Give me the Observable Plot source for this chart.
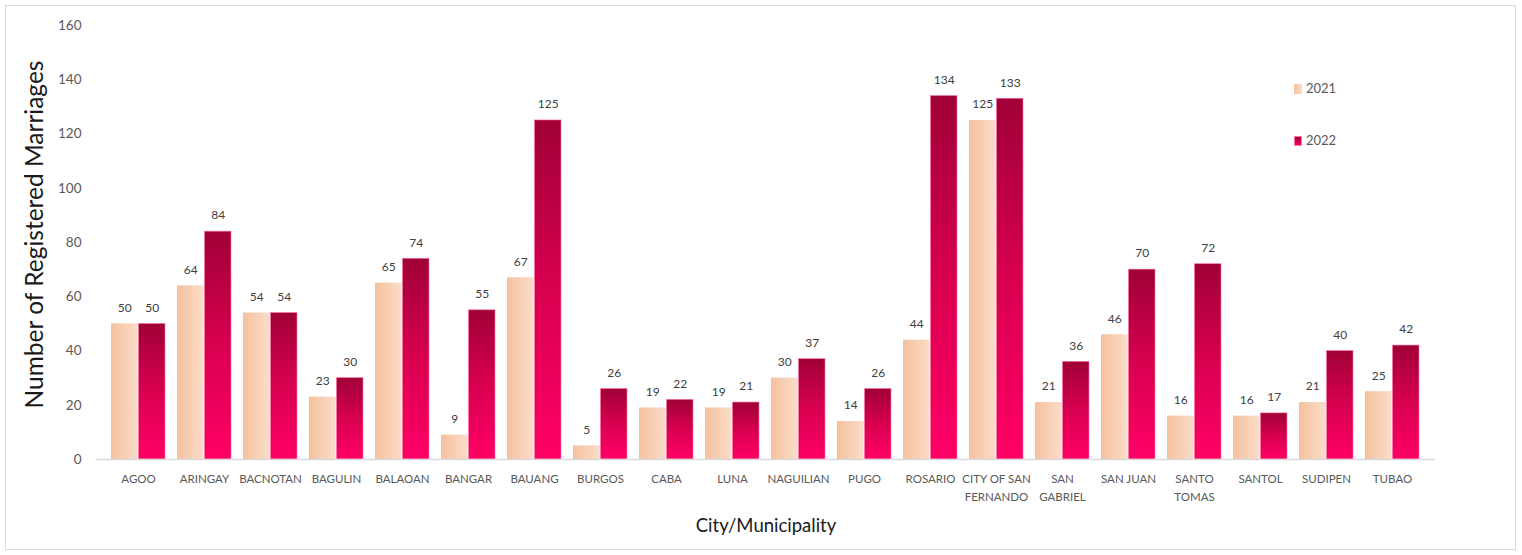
<!DOCTYPE html>
<html><head><meta charset="utf-8">
<script src="https://cdn.jsdelivr.net/npm/d3@7"></script>
<script src="https://cdn.jsdelivr.net/npm/@observablehq/plot@0.6"></script>
<style>
body{margin:0;background:#fff;font-family:Lato,sans-serif}
#wrap{position:relative;width:1522px;height:555px;overflow:hidden}
#border{position:absolute;left:5px;top:5px;width:1511px;height:545px;border:1px solid #d9d9d9;box-sizing:border-box;pointer-events:none}
.leg{position:absolute;left:1294px;font:13px Lato,sans-serif;color:#595959;display:flex;align-items:center;line-height:1}
.sw{width:8px;height:10px;margin-right:4px;box-sizing:border-box}
</style></head>
<body><div id="wrap"><div id="border"></div></div>
<script>
const cities = ["AGOO","ARINGAY","BACNOTAN","BAGULIN","BALAOAN","BANGAR","BAUANG","BURGOS","CABA","LUNA","NAGUILIAN","PUGO","ROSARIO","CITY OF SAN FERNANDO","SAN GABRIEL","SAN JUAN","SANTO TOMAS","SANTOL","SUDIPEN","TUBAO"];
const tickLabels = ["AGOO","ARINGAY","BACNOTAN","BAGULIN","BALAOAN","BANGAR","BAUANG","BURGOS","CABA","LUNA","NAGUILIAN","PUGO","ROSARIO","CITY OF SAN\nFERNANDO","SAN\nGABRIEL","SAN JUAN","SANTO\nTOMAS","SANTOL","SUDIPEN","TUBAO"];
const marriages2021 = [50,64,54,23,65,9,67,5,19,19,30,14,44,125,21,46,16,16,21,25];
const marriages2022 = [50,84,54,30,74,55,125,26,22,21,37,26,134,133,36,70,72,17,40,42];
const years = ["2021","2022"];
const yTicks = [0,20,40,60,80,100,120,140,160];

const rows = cities.map((c,i)=>({city:c, v2021:marriages2021[i], v2022:marriages2022[i]}));
const half = 27.45;

const chart = Plot.plot({
  width:1522, height:555,
  marginLeft:96, marginRight:87, marginTop:25, marginBottom:96,
  style:{fontFamily:"Lato, sans-serif", background:"transparent", overflow:"visible"},
  x:{domain:cities, paddingInner:0.18, paddingOuter:0.09, label:null},
  y:{domain:[0,160], label:null},
  marks:[
    Plot.barY(rows,{x:"city", y:"v2021", insetRight:half, fill:"url(#g2021)"}),
    Plot.barY(rows,{x:"city", y:"v2022", insetLeft:half, fill:"url(#g2022)", stroke:"#ff7aa8", strokeWidth:0.6}),
    Plot.text(rows,{x:"city", y:"v2021", text:d=>String(d.v2021), dx:-13.7, dy:-16, fontSize:12, fill:"#404040"}),
    Plot.text(rows,{x:"city", y:"v2022", text:d=>String(d.v2022), dx:13.7, dy:-16, fontSize:12, fill:"#404040"}),
    Plot.ruleY([0],{stroke:"#d9d9d9", strokeWidth:1.5}),
    Plot.axisY({ticks:yTicks, tickSize:0, tickPadding:15, fontSize:13.5, fill:"#595959", label:null}),
    Plot.axisX({tickSize:0, tickPadding:10, fontSize:11.5, fill:"#595959", lineHeight:1.6, label:null,
      tickFormat:d=>tickLabels[cities.indexOf(d)]}),
    Plot.text(["Number of Registered Marriages"],{text:d=>d, frameAnchor:"left", textAnchor:"middle", rotate:-90, dx:-61, dy:-8, fontSize:24.5, fill:"#1a1a1a"}),
    Plot.text(["City/Municipality"],{text:d=>d, frameAnchor:"bottom", textAnchor:"middle", dy:72, fontSize:18.5, fill:"#1a1a1a"})
  ]
});

d3.select(chart).insert("defs",":first-child").html(`
  <linearGradient id="g2021" x1="0" y1="0" x2="1" y2="0">
    <stop offset="0" stop-color="#f4c19d"/>
    <stop offset="1" stop-color="#fbdcc9"/>
  </linearGradient>
  <linearGradient id="g2022" x1="0" y1="0" x2="0" y2="1">
    <stop offset="0" stop-color="#a00038"/>
    <stop offset="0.5" stop-color="#d8004f"/>
    <stop offset="1" stop-color="#ff0066"/>
  </linearGradient>`);

const wrap = document.getElementById("wrap");
wrap.insertBefore(chart, wrap.firstChild);

const legendSpecs = [
  {label:years[0], top:82, bg:"linear-gradient(90deg,#f4c19d,#fbdcc9)", border:"none"},
  {label:years[1], top:134, bg:"linear-gradient(180deg,#a00038,#ff0066)", border:"1px solid #ff7aa8"}
];
legendSpecs.forEach(s=>{
  const el = document.createElement("div");
  el.className = "leg";
  el.style.top = s.top + "px";
  el.innerHTML = `<span class="sw" style="background:${s.bg};border:${s.border}"></span><span>${s.label}</span>`;
  wrap.appendChild(el);
});
</script>
</body></html>
